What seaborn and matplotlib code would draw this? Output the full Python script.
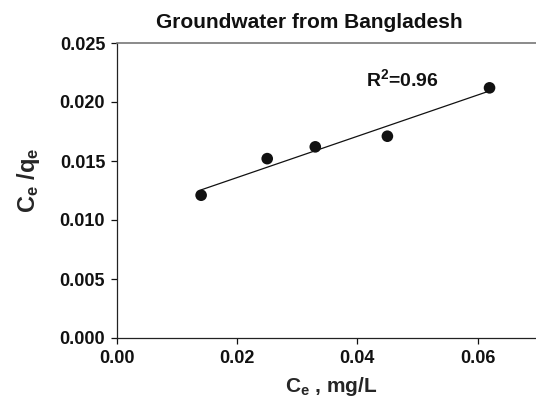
import matplotlib

matplotlib.use("Agg", force=True)
import matplotlib.pyplot as plt
import numpy as np
import pandas as pd
import seaborn as sns

# values
ce = [0.014, 0.025, 0.033, 0.045, 0.062]
ce_qe = [0.0121, 0.0152, 0.0162, 0.0171, 0.0212]
x_ticks = [0.00, 0.02, 0.04, 0.06]
y_ticks = [0.000, 0.005, 0.010, 0.015, 0.020, 0.025]
r2_label = "0.96"

sns.set_theme(style="ticks")
plt.rcParams["font.family"] = ["Liberation Sans", "DejaVu Sans"]
plt.rcParams["font.weight"] = "bold"
plt.rcParams["mathtext.fontset"] = "custom"
plt.rcParams["mathtext.rm"] = "Liberation Sans:bold"
plt.rcParams["mathtext.it"] = "Liberation Sans:bold"
plt.rcParams["mathtext.bf"] = "Liberation Sans:bold"

df = pd.DataFrame({"ce": ce, "ce_qe": ce_qe})

fig = plt.figure(figsize=(5.36, 4.04), dpi=100)
ax = fig.add_axes([117 / 536, 66 / 404, 420.6 / 536, 295 / 404])

sns.regplot(
    data=df, x="ce", y="ce_qe", ci=None, truncate=True, ax=ax,
    scatter_kws={"s": 70, "color": "#111111", "edgecolor": "none", "alpha": 1},
    line_kws={"color": "#111111", "lw": 0.9},
)

ax.set_xlim(0, 0.07)
ax.set_ylim(0, 0.025)
ax.set_xticks(x_ticks)
ax.set_xticklabels([f"{v:.2f}" for v in x_ticks])
ax.set_yticks(y_ticks)
ax.set_yticklabels([f"{v:.3f}" for v in y_ticks])
ax.tick_params(labelsize=13, length=4.5, width=0.9, pad=4, colors="#111111")

for side in ("left", "bottom"):
    ax.spines[side].set_color("#222222")
    ax.spines[side].set_linewidth(0.9)
ax.spines["top"].set_visible(True)
ax.spines["top"].set_color("#777777")
ax.spines["top"].set_linewidth(1.2)
ax.spines["right"].set_visible(False)

ax.set_xlabel(r"C$_{\rm e}$ , mg/L", fontsize=15, fontweight="bold")
ax.set_ylabel(r"C$_{\rm e}$ /q$_{\rm e}$", fontsize=17, fontweight="bold")
ax.xaxis.set_label_coords((331 - 117) / 420.6, -0.125)
ax.yaxis.set_label_coords(-(117 - 42) / 420.6, (338 - 180) / 295)

ax.text(0.0415, 0.02136, r"R$^{2}$=" + r2_label, fontsize=14, fontweight="bold",
        ha="left", va="baseline", color="#111111")

fig.text(309 / 536, 1 - 23 / 404, "Groundwater from Bangladesh", fontsize=15,
         fontweight="bold", ha="center", va="center", color="#111111")

fig.savefig("out.png", dpi=100)
plt.close(fig)
